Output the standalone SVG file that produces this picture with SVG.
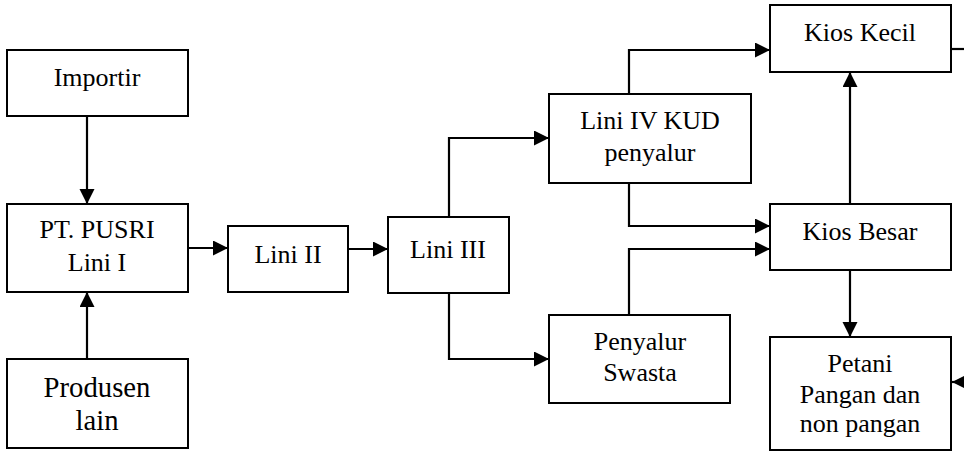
<svg xmlns="http://www.w3.org/2000/svg" width="964" height="458" viewBox="0 0 964 458">
<style>
.box{fill:#fff;stroke:#000;stroke-width:2}
.c{fill:none;stroke:#000;stroke-width:2.2}
</style>
<defs>
<marker id="ah" markerUnits="userSpaceOnUse" markerWidth="16" markerHeight="16" refX="15" refY="7.5" orient="auto">
<path d="M0,0 L15,7.5 L0,15 z" fill="#000"/>
</marker>
</defs>
<rect width="964" height="458" fill="#fff"/>
<g id="connectors">
<path class="c" d="M87,116 V204" marker-end="url(#ah)"/>
<path class="c" d="M87,359 V292" marker-end="url(#ah)"/>
<path class="c" d="M188,248 H228" marker-end="url(#ah)"/>
<path class="c" d="M348,249 H388" marker-end="url(#ah)"/>
<path class="c" d="M449,217 V138 H549" marker-end="url(#ah)"/>
<path class="c" d="M449,293 V359 H549" marker-end="url(#ah)"/>
<path class="c" d="M629,94 V50 H770" marker-end="url(#ah)"/>
<path class="c" d="M629,183 V226 H770" marker-end="url(#ah)"/>
<path class="c" d="M629,315 V249 H770" marker-end="url(#ah)"/>
<path class="c" d="M850,204 V72" marker-end="url(#ah)"/>
<path class="c" d="M850,270 V337" marker-end="url(#ah)"/>
<path class="c" d="M951,49 H964"/>
<path class="c" d="M966,382 H952" marker-end="url(#ah)"/>
</g>
<g font-family="Liberation Serif, Tinos, Times New Roman, DejaVu Serif, serif" font-size="26" text-anchor="middle" fill="#000">
<g id="importir"><rect class="box" x="7" y="50" width="181" height="66"/><text x="97" y="86">Importir</text></g>
<g id="pusri"><rect class="box" x="7" y="204" width="181" height="88"/><text x="97" y="238">PT. PUSRI</text><text x="97" y="271">Lini I</text></g>
<g id="produsen"><rect class="box" x="7" y="359" width="181" height="89"/><text x="97" y="397" font-size="28.7">Produsen</text><text x="97" y="430" font-size="28.7">lain</text></g>
<g id="lini2"><rect class="box" x="228" y="226" width="120" height="66"/><text x="288" y="263">Lini II</text></g>
<g id="lini3"><rect class="box" x="388" y="217" width="121" height="76"/><text x="448" y="258">Lini III</text></g>
<g id="lini4"><rect class="box" x="549" y="94" width="202" height="89"/><text x="650" y="129">Lini IV KUD</text><text x="650" y="161">penyalur</text></g>
<g id="swasta"><rect class="box" x="549" y="315" width="181" height="88"/><text x="640" y="350">Penyalur</text><text x="640" y="381">Swasta</text></g>
<g id="kioskecil"><rect class="box" x="770" y="5" width="181" height="67"/><text x="860" y="41">Kios Kecil</text></g>
<g id="kiosbesar"><rect class="box" x="770" y="204" width="181" height="66"/><text x="860" y="240">Kios Besar</text></g>
<g id="petani"><rect class="box" x="770" y="337" width="181" height="113"/><text x="860" y="372">Petani</text><text x="860" y="403">Pangan dan</text><text x="860" y="432">non pangan</text></g>
</g>
</svg>
